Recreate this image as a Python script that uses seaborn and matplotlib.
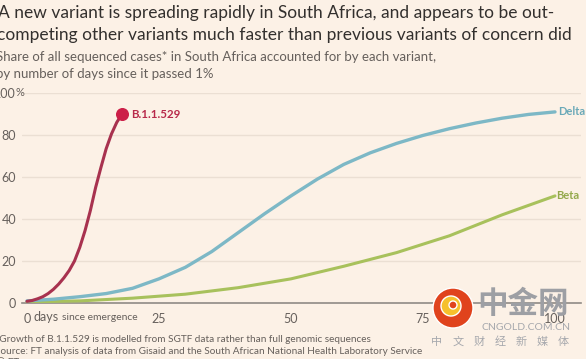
import matplotlib.pyplot as plt
import pandas as pd
import seaborn as sns
from matplotlib.patches import Circle

# data (days since variant passed 1%, share %)
omicron_days = [0, 1, 2, 3, 4, 5, 6, 7, 8, 9, 10, 11, 12, 13, 14, 15, 16, 17, 18]
omicron_share = [0.8, 1.2, 2, 3, 4.5, 6.5, 9, 12, 15.5, 20, 26.5, 34.5, 44, 55, 64.5, 73.5, 80.5, 86, 90]

delta_days = [0, 5, 10, 15, 20, 25, 30, 35, 40, 45, 50, 55, 60, 65, 70, 75, 80, 85, 90, 95, 100]
delta_share = [1, 1.8, 3, 4.5, 7, 11.5, 17, 24.5, 33.5, 42.5, 51, 59, 66, 71.5, 76, 79.8, 83, 85.7, 88, 89.8, 91]

beta_days = [0, 10, 20, 30, 40, 50, 60, 70, 80, 90, 100]
beta_share = [0.5, 1, 2.3, 4.2, 7.3, 11.5, 17.5, 24, 32, 42, 51]

x_ticks = [0, 25, 50, 75, 100]
y_ticks = [0, 20, 40, 60, 80, 100]

watermark_chars = ['中', '文', '财', '经', '新', '媒', '体']

BG = '#fcf1e6'
W, H = 586, 359

sns.set_theme(style="white")
plt.rcParams['font.family'] = ['Lato', 'DejaVu Sans']


def ftext(fig, x, y, s, **kw):
    # place text by pixel position (y from top)
    return fig.text(x / W, 1 - y / H, s, **kw)


fig = plt.figure(figsize=(W / 100, H / 100), dpi=100, facecolor=BG)
ax = fig.add_axes([21.7 / W, 56 / H, 559.7 / W, 210 / H])
ax.set_facecolor(BG)

df = pd.concat([
    pd.DataFrame({'day': omicron_days, 'share': omicron_share, 'variant': 'B.1.1.529'}),
    pd.DataFrame({'day': delta_days, 'share': delta_share, 'variant': 'Delta'}),
    pd.DataFrame({'day': beta_days, 'share': beta_share, 'variant': 'Beta'}),
])
colors = {'B.1.1.529': '#a8324f', 'Delta': '#7db8c6', 'Beta': '#a8c15c'}

for y in y_ticks[1:]:
    ax.axhline(y, color='#ebdfd3', lw=1, zorder=0)

sns.lineplot(data=df[df.variant == 'Beta'], x='day', y='share', color=colors['Beta'], lw=2.2, ax=ax, zorder=3)
sns.lineplot(data=df[df.variant == 'Delta'], x='day', y='share', color=colors['Delta'], lw=2.4, ax=ax, zorder=3)
sns.lineplot(data=df[df.variant == 'B.1.1.529'], x='day', y='share', color=colors['B.1.1.529'], lw=2.2, ax=ax, zorder=4)
ax.scatter([omicron_days[-1]], [omicron_share[-1]], s=70, color='#cc1f48', zorder=5, clip_on=False)

ax.text(omicron_days[-1] + 1.8, omicron_share[-1], 'B.1.1.529', color='#b8294a', fontsize=8.3,
        fontweight='bold', va='center')
ax.text(delta_days[-1] + 0.6, delta_share[-1], 'Delta', color='#6aa9b8', fontsize=8,
        fontweight='bold', va='center')
ax.text(beta_days[-1] + 0.3, beta_share[-1], 'Beta', color='#94a94c', fontsize=8,
        fontweight='bold', va='center')

ax.set_xlim(-1, 105)
ax.set_ylim(0, 100)
ax.set_xticks(x_ticks)
ax.set_xticklabels(['0', '25', '50', '75', '100'])
ax.set_yticks(y_ticks)
ax.set_yticklabels(['0', '20', '40', '60', '80', '100'])
ax.tick_params(axis='x', length=5, width=1, color='#8f8a85', pad=2, labelsize=9, labelcolor='#66605c', direction='out')
ax.tick_params(axis='y', length=0, pad=4, labelsize=9, labelcolor='#66605c')
ax.set_xlabel('')
ax.set_ylabel('')
for side in ['top', 'right', 'left']:
    ax.spines[side].set_visible(False)
ax.spines['bottom'].set_color('#8f8a85')
ax.spines['bottom'].set_linewidth(1.2)
ax.text(-0.0105, 100, '%', transform=ax.get_yaxis_transform(), ha='left', va='center',
        fontsize=8, color='#66605c')

# x axis unit text
ftext(fig, 33, 317, 'days', fontsize=9, color='#66605c', va='center')
ftext(fig, 62, 318, 'since emergence', fontsize=7.5, color='#66605c', va='center')

# title and subtitle
ftext(fig, -2, 18, 'A new variant is spreading rapidly in South Africa, and appears to be out-',
      fontsize=12.5, color='#33302e', va='baseline')
ftext(fig, -3, 40, 'competing other variants much faster than previous variants of concern did',
      fontsize=12.5, color='#33302e', va='baseline')
ftext(fig, -4, 61, 'Share of all sequenced cases* in South Africa accounted for by each variant,',
      fontsize=9.5, color='#66605c', va='baseline')
ftext(fig, -4, 78, 'by number of days since it passed 1%', fontsize=9.5, color='#66605c', va='baseline')

# footnotes
ftext(fig, -5, 340, '*Growth of B.1.1.529 is modelled from SGTF data rather than full genomic sequences',
      fontsize=7.2, color='#66605c', va='center')
ftext(fig, -5, 351, 'Source: FT analysis of data from Gisaid and the South African National Health Laboratory Service',
      fontsize=7.2, color='#66605c', va='center')
ftext(fig, -3, 362, '\u00a9 FT', fontsize=7.2, color='#66605c', va='center')

# watermark
fig.patches.append(Circle((453, H - 308), 20, transform=None, facecolor='#e0431d', zorder=10))
fig.patches.append(Circle((451, H - 306), 10, transform=None, facecolor='#f6c02c', zorder=11))
fig.patches.append(Circle((453, H - 305), 4, transform=None, facecolor='#e0431d', zorder=12))
cjk = ['Noto Sans CJK SC', 'DejaVu Sans']
ftext(fig, 523, 304, '中金网', fontsize=22, color='#9d9fa4', ha='center', va='center',
      family=cjk, fontweight='bold', zorder=13)
ftext(fig, 526, 328, 'CNGOLD.COM.CN', fontsize=7.5, color='#a6a8ad', ha='center', va='center', zorder=13)
for i, ch in enumerate(watermark_chars):
    ftext(fig, 437 + i * 21, 342, ch, fontsize=8, color='#a6a8ad', ha='center', va='center',
          family=cjk, zorder=13)

fig.savefig('out.png', dpi=100, facecolor=BG)
